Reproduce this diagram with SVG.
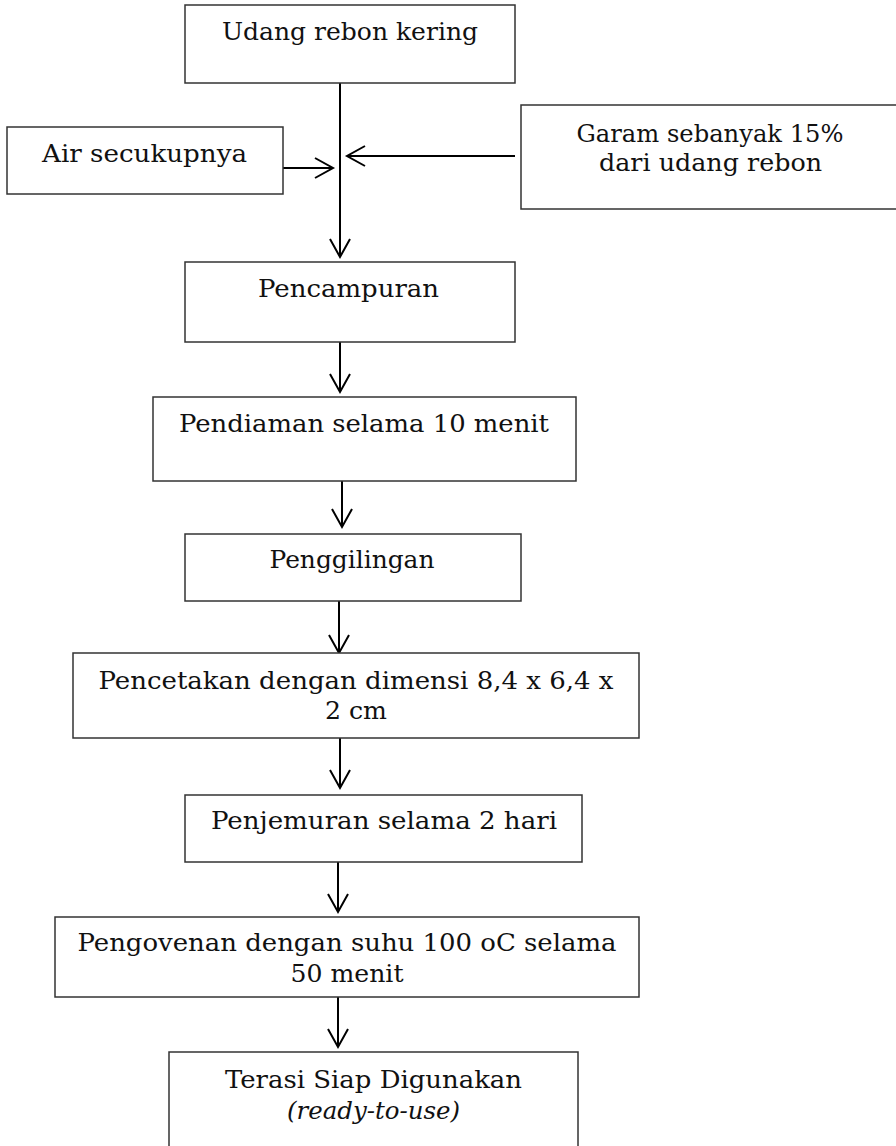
<svg xmlns="http://www.w3.org/2000/svg" width="896" height="1146" viewBox="0 0 896 1146">
<defs>
<style>
.box{fill:#fff;stroke:#333;stroke-width:1.5}
.t{font-family:"DejaVu Serif","Liberation Serif",serif;font-size:24px;fill:#111;text-anchor:middle}
.it{font-style:italic}
.ln{stroke:#000;stroke-width:2;fill:none}
</style>
<marker id="arr" markerUnits="userSpaceOnUse" markerWidth="22" markerHeight="24" refX="19" refY="11" orient="auto">
<path d="M1,1 L19,11 L1,21" fill="none" stroke="#000" stroke-width="2"/>
</marker>
</defs>
<rect width="896" height="1146" fill="#fff"/>
<g id="connectors">
<line class="ln" x1="340" y1="83" x2="340" y2="257" marker-end="url(#arr)"/>
<line class="ln" x1="278" y1="168" x2="333" y2="168" marker-end="url(#arr)"/>
<line class="ln" x1="515" y1="156" x2="347" y2="156" marker-end="url(#arr)"/>
<line class="ln" x1="340" y1="342" x2="340" y2="392" marker-end="url(#arr)"/>
<line class="ln" x1="342" y1="477" x2="342" y2="527" marker-end="url(#arr)"/>
<line class="ln" x1="339" y1="601" x2="339" y2="653" marker-end="url(#arr)"/>
<line class="ln" x1="340" y1="738" x2="340" y2="788" marker-end="url(#arr)"/>
<line class="ln" x1="338" y1="862" x2="338" y2="912" marker-end="url(#arr)"/>
<line class="ln" x1="338" y1="997" x2="338" y2="1047" marker-end="url(#arr)"/>
</g>
<g id="n-udang">
<rect class="box" x="185" y="5" width="330" height="78"/>
<text class="t" x="350" y="40" textLength="256" lengthAdjust="spacingAndGlyphs">Udang rebon kering</text>
</g>
<g id="n-air">
<rect class="box" x="7" y="127" width="276" height="67"/>
<text class="t" x="144.5" y="162" textLength="205" lengthAdjust="spacingAndGlyphs">Air secukupnya</text>
</g>
<g id="n-garam">
<rect class="box" x="521" y="105" width="380" height="104"/>
<text class="t" x="710" y="142" textLength="267" lengthAdjust="spacingAndGlyphs">Garam sebanyak 15%</text>
<text class="t" x="710.5" y="171" textLength="223" lengthAdjust="spacingAndGlyphs">dari udang rebon</text>
</g>
<g id="n-pencampuran">
<rect class="box" x="185" y="262" width="330" height="80"/>
<text class="t" x="348.5" y="297" textLength="181" lengthAdjust="spacingAndGlyphs">Pencampuran</text>
</g>
<g id="n-pendiaman">
<rect class="box" x="153" y="397" width="423" height="84"/>
<text class="t" x="364" y="432" textLength="370" lengthAdjust="spacingAndGlyphs">Pendiaman selama 10 menit</text>
</g>
<g id="n-penggilingan">
<rect class="box" x="185" y="534" width="336" height="67"/>
<text class="t" x="352" y="568" textLength="165" lengthAdjust="spacingAndGlyphs">Penggilingan</text>
</g>
<g id="n-pencetakan">
<rect class="box" x="73" y="653" width="566" height="85"/>
<text class="t" x="356" y="689" textLength="515" lengthAdjust="spacingAndGlyphs">Pencetakan dengan dimensi 8,4 x 6,4 x</text>
<text class="t" x="356" y="719" textLength="62" lengthAdjust="spacingAndGlyphs">2 cm</text>
</g>
<g id="n-penjemuran">
<rect class="box" x="185" y="795" width="397" height="67"/>
<text class="t" x="384" y="829" textLength="346" lengthAdjust="spacingAndGlyphs">Penjemuran selama 2 hari</text>
</g>
<g id="n-pengovenan">
<rect class="box" x="55" y="917" width="584" height="80"/>
<text class="t" x="347" y="951" textLength="539" lengthAdjust="spacingAndGlyphs">Pengovenan dengan suhu 100 oC selama</text>
<text class="t" x="347" y="982" textLength="113" lengthAdjust="spacingAndGlyphs">50 menit</text>
</g>
<g id="n-terasi">
<rect class="box" x="169" y="1052" width="409" height="100"/>
<text class="t" x="373.5" y="1088" textLength="297" lengthAdjust="spacingAndGlyphs">Terasi Siap Digunakan</text>
<text class="t it" x="373.5" y="1119" textLength="173" lengthAdjust="spacingAndGlyphs">(ready-to-use)</text>
</g>
</svg>
